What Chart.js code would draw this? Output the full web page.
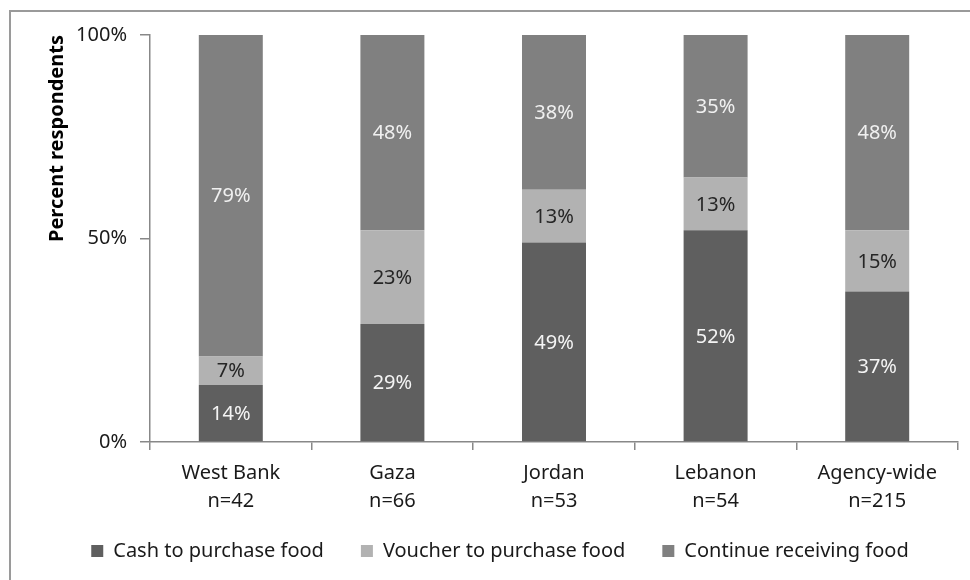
<!DOCTYPE html>
<html>
<head>
<meta charset="utf-8">
<script src="https://cdn.jsdelivr.net/npm/chart.js@4.4.0/dist/chart.umd.min.js"></script>
<style>
  body { margin: 0; background: #fff; }
  #wrap { position: relative; width: 970px; height: 580px; }
  #frame { position: absolute; left: 9px; top: 10px; right: 0; bottom: 0;
           border-top: 2px solid #9a9a9a; border-left: 2px solid #9a9a9a; }
</style>
</head>
<body>
<div id="wrap">
  <div id="frame"></div>
  <canvas id="foodChart" width="970" height="580"></canvas>
</div>
<script>
// values (percent of respondents)
const categories = ['West Bank', 'Gaza', 'Jordan', 'Lebanon', 'Agency-wide'];
const sampleSizes = [42, 66, 53, 54, 215];
const cashValues = [14, 29, 49, 52, 37];
const voucherValues = [7, 23, 13, 13, 15];
const continueValues = [79, 48, 38, 35, 48];
const seriesNames = ['Cash to purchase food', 'Voucher to purchase food', 'Continue receiving food'];
const yTicks = [0, 50, 100];

const barColors = ['#5f5f5f', '#b2b2b2', '#808080'];
const valueColors = ['#f4f4f4', '#262626', '#f0f0f0'];
const FONT = '"Noto Sans", sans-serif';

// draws the value in the middle of each stacked segment
const segmentLabels = {
    id: 'segmentLabels',
    afterDatasetsDraw(chart) {
        const ctx = chart.ctx;
        ctx.save();
        ctx.font = '20px ' + FONT;
        ctx.textAlign = 'center';
        ctx.textBaseline = 'middle';
        chart.data.datasets.forEach((ds, i) => {
            chart.getDatasetMeta(i).data.forEach((bar, j) => {
                const p = bar.getProps(['x', 'y', 'base'], true);
                ctx.fillStyle = valueColors[i];
                ctx.fillText(ds.data[j] + '%', p.x, (p.y + p.base) / 2 + 1);
            });
        });
        ctx.restore();
    }
};

// nudge the legend a bit: the item gap wants more room than the rows allow
const legendNudge = {
    id: 'legendNudge',
    afterLayout(chart) {
        const lg = chart.legend;
        lg.top -= 12;
        lg.bottom -= 12;
        lg.left += 16;
        lg.right += 16;
    }
};

const ctx = document.getElementById('foodChart').getContext('2d');
new Chart(ctx, {
    type: 'bar',
    data: {
        labels: categories.map((c, i) => [c, 'n=' + sampleSizes[i]]),
        datasets: [
            { label: seriesNames[0], data: cashValues, backgroundColor: barColors[0] },
            { label: seriesNames[1], data: voucherValues, backgroundColor: barColors[1] },
            { label: seriesNames[2], data: continueValues, backgroundColor: barColors[2] }
        ]
    },
    options: {
        responsive: false,
        animation: false,
        events: [],
        layout: { padding: { left: 10, top: 35, right: 12, bottom: 4 } },
        datasets: { bar: { categoryPercentage: 1, barPercentage: 0.396 } },
        plugins: {
            tooltip: { enabled: false },
            legend: {
                position: 'bottom',
                maxHeight: 60,
                labels: {
                    boxWidth: 12,
                    boxHeight: 12,
                    padding: 37,
                    color: '#1a1a1a',
                    font: { family: FONT, size: 20 }
                }
            }
        },
        scales: {
            x: {
                stacked: true,
                border: { color: '#888', width: 1.5 },
                grid: { drawOnChartArea: false, tickLength: 8, color: '#888', lineWidth: 1.5 },
                ticks: { color: '#1a1a1a', padding: 9, maxRotation: 0,
                         font: { family: FONT, size: 20, lineHeight: 1.4 } },
                afterFit: scale => { scale.height = 74; }
            },
            y: {
                stacked: true,
                min: 0,
                max: 100,
                border: { color: '#888', width: 1.5 },
                grid: { drawOnChartArea: false, tickLength: 10, color: '#888', lineWidth: 1.5 },
                afterBuildTicks: scale => { scale.ticks = yTicks.map(v => ({ value: v })); },
                ticks: { color: '#1a1a1a', padding: 13, callback: v => v + '%',
                         font: { family: FONT, size: 20 } },
                title: {
                    display: true,
                    text: 'Percent respondents',
                    align: 'end',
                    color: '#000',
                    padding: { top: 35, bottom: 0 },
                    font: { family: FONT, size: 20, weight: 'bold' }
                },
                afterFit: scale => { scale.width = 140; }
            }
        }
    },
    plugins: [segmentLabels, legendNudge]
});
</script>
</body>
</html>
